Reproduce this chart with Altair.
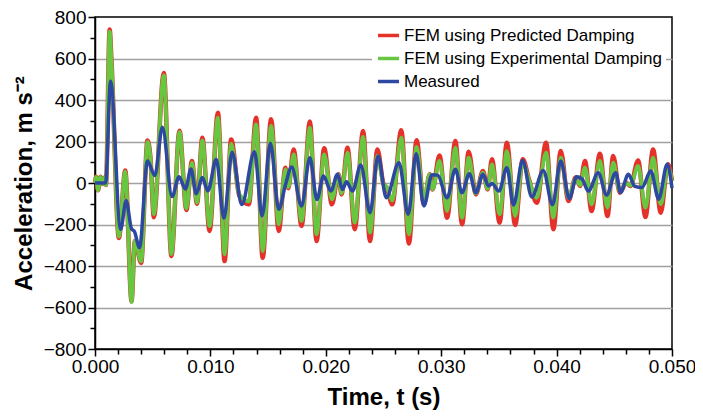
import altair as alt
import pandas as pd

# ---- data (extrema of each trace) ----
t_fem = [0.0, 0.0001, 0.00026, 0.00049, 0.00065, 0.0008, 0.00095, 0.00127, 0.00144,
         0.00207, 0.00262, 0.00317, 0.00345, 0.0040, 0.00455, 0.0048, 0.0051,
         0.00596, 0.00662, 0.00732, 0.00792, 0.0084, 0.00884, 0.0093, 0.00993,
         0.01065, 0.01123, 0.0118, 0.0125, 0.01333, 0.01396, 0.01453, 0.01526,
         0.01592, 0.0165, 0.01675, 0.01721, 0.0179, 0.01862, 0.0192, 0.01986,
         0.02053, 0.0211, 0.02136, 0.02188, 0.02251, 0.02323, 0.02383, 0.02447,
         0.0250, 0.0253, 0.02576, 0.02654, 0.0272, 0.02787, 0.0285, 0.0290,
         0.02925, 0.02985, 0.03051, 0.03123, 0.03181, 0.03238, 0.0330, 0.03362,
         0.03402, 0.0344, 0.03506, 0.03569, 0.03641, 0.03707, 0.0376, 0.03828,
         0.03909, 0.03972, 0.04036, 0.04102, 0.04165, 0.04203, 0.04246, 0.04303,
         0.04375, 0.04441, 0.0449, 0.04548, 0.04603, 0.0464, 0.04706, 0.0477,
         0.04836, 0.04902, 0.04965, 0.0500]
red_vals = [0, 30, -35, 30, -5, 25, -10, 740, 575,
            -265, 60, -570, -279, -385, 205, 125, -165,
            530, -352, 252, -130, 106, -100, 218, -231,
            339, -376, 210, -60, -103, 315, -360, 307,
            -231, 74, -25, 162, -207, 296, -280, 167,
            -103, 42, -55, 170, -223, 251, -280, 162,
            -5, -25, -103, 254, -292, 206, -103, 42,
            -31, 133, -167, 202, -199, 151, -55, 58,
            -31, 114, -191, 194, -202, 114, 18, -95,
            194, -223, 154, -87, 26, -14, 106, -135,
            141, -159, 130, -47, 2, -15, 109, -164,
            162, -143, 90, 10]
green_vals = [0, 30, -35, 30, -5, 25, -10, 730, 570,
              -258, 55, -575, -279, -378, 198, 120, -150,
              518, -343, 246, -122, 98, -95, 204, -208,
              315, -344, 188, -55, -88, 283, -328, 275,
              -199, 65, -20, 138, -183, 267, -247, 138,
              -79, 40, -50, 146, -191, 222, -239, 130,
              -5, -20, -85, 219, -247, 174, -79, 40,
              -30, 106, -135, 170, -167, 122, -50, 50,
              -28, 90, -151, 154, -159, 98, 15, -71,
              146, -167, 122, -71, 20, -10, 74, -103,
              106, -119, 98, -40, 0, -12, 82, -119,
              122, -103, 74, 10]

t_meas = [0.0, 0.0005, 0.00092, 0.00135, 0.00222, 0.0027, 0.00317, 0.0034, 0.00386,
          0.00455, 0.00518, 0.00584, 0.00668, 0.00728, 0.00783, 0.00832, 0.00878,
          0.0093, 0.00978, 0.01051, 0.01117, 0.01188, 0.01272, 0.01382, 0.01448,
          0.0152, 0.01592, 0.0165, 0.01704, 0.0179, 0.01862, 0.01923, 0.0198,
          0.02044, 0.02101, 0.02144, 0.0218, 0.02231, 0.02303, 0.02383, 0.02453,
          0.02524, 0.02634, 0.02714, 0.02783, 0.0285, 0.0292, 0.0297, 0.03051,
          0.03123, 0.0318, 0.03244, 0.0330, 0.03362, 0.0341, 0.0344, 0.0350,
          0.03569, 0.03627, 0.03705, 0.03785, 0.03885, 0.03964, 0.04036, 0.0411,
          0.04174, 0.0422, 0.04275, 0.04361, 0.04433, 0.04512, 0.04554, 0.04622,
          0.04678, 0.0474, 0.04816, 0.04885, 0.04958, 0.0500]
meas_vals = [0, 0, 0, 490, -223, -86, -222, -232, -311,
             106, 36, 269, -65, 30, -29, 67, -52,
             26, -38, 114, -170, 148, -104, 151, -159,
             192, -127, -10, 77, -111, 122, -79, 34,
             -39, 42, -31, 6, -39, 87, -143, 130,
             -71, 98, -151, 141, -111, 40, 38, -71,
             66, -47, 45, -47, 42, -14, -3, -39,
             74, -106, 109, -67, 60, -105, 106, -75,
             30, 20, -39, 50, -58, 50, -46, 42,
             -16, -22, 58, -78, 90, -24]

series_names = ["FEM using Predicted Damping", "FEM using Experimental Damping", "Measured"]
series_colors = ["#E4322B", "#68C741", "#2C48A0"]
x_ticks = [round(i * 0.002, 3) for i in range(26)]
y_ticks = list(range(-800, 801, 100))

df_red = pd.DataFrame({"t": t_fem, "a": red_vals, "s": series_names[0]})
df_green = pd.DataFrame({"t": t_fem, "a": green_vals, "s": series_names[1]})
df_meas = pd.DataFrame({"t": t_meas, "a": meas_vals, "s": series_names[2]})

FONT = "Liberation Sans, Arial, sans-serif"
major_x = "abs(round(datum.value*100) - datum.value*100) < 1e-6"
major_y = "abs(datum.value % 200) < 1e-6"
inner_grid = "abs(datum.value % 200) < 1e-6 && abs(datum.value) < 799"

x_axis = alt.Axis(
    values=x_ticks,
    labelExpr=f"({major_x}) ? format(datum.value, '.3f') : ''",
    tickSize={"condition": {"test": major_x, "value": 7}, "value": 5},
    grid=False, labelFlush=False, labelOverlap=False,
    title="Time, t (s)", labelPadding=1, titlePadding=9,
)
y_axis = alt.Axis(
    values=y_ticks,
    labelExpr=f"({major_y}) ? format(datum.value, 'd') : ''",
    tickSize={"condition": {"test": major_y, "value": 7}, "value": 5},
    gridOpacity={"condition": {"test": inner_grid, "value": 1}, "value": 0},
    grid=True, labelFlush=False, labelOverlap=False,
    title="Acceleration, m s\u207b\u00b2", labelPadding=2, titlePadding=7,
)
x_scale = alt.Scale(domain=[0, 0.05], nice=False)
y_scale = alt.Scale(domain=[-800, 800], nice=False)
color_scale = alt.Scale(domain=series_names, range=series_colors)
legend = alt.Legend(
    title=None, orient="none", legendX=277, legendY=2, fillColor="white",
    padding=4, symbolType="stroke", symbolSize=441, symbolStrokeWidth=3.5,
    labelFontSize=17, labelFont="Liberation Sans", labelColor="black",
    rowPadding=2, labelOffset=3, labelLimit=400, direction="vertical",
)


def layer(df, width):
    return alt.Chart(df).mark_line(interpolate="monotone", strokeWidth=width).encode(
        x=alt.X("t:Q", scale=x_scale, axis=x_axis),
        y=alt.Y("a:Q", scale=y_scale, axis=y_axis),
        color=alt.Color("s:N", scale=color_scale, legend=legend),
    )


chart = alt.layer(
    layer(df_red, 4.5), layer(df_green, 3.8), layer(df_meas, 3.5)
).properties(
    width=577, height=332,
    padding={"left": 87, "top": 9, "right": 23, "bottom": 62},
    autosize=alt.AutoSizeParams(type="none"),
).configure_view(
    stroke="black", strokeWidth=1.5
).configure_axis(
    domainColor="black", domainWidth=1.5, tickColor="black", tickWidth=1.5,
    labelFont=FONT, labelFontSize=19, labelColor="black",
    titleFont=FONT, titleFontSize=24, titleFontWeight="bold", titleColor="black",
    gridColor="#a0a0a0", gridWidth=1.5,
)

chart.save("out.html", embed_options={"renderer": "svg", "actions": False})
